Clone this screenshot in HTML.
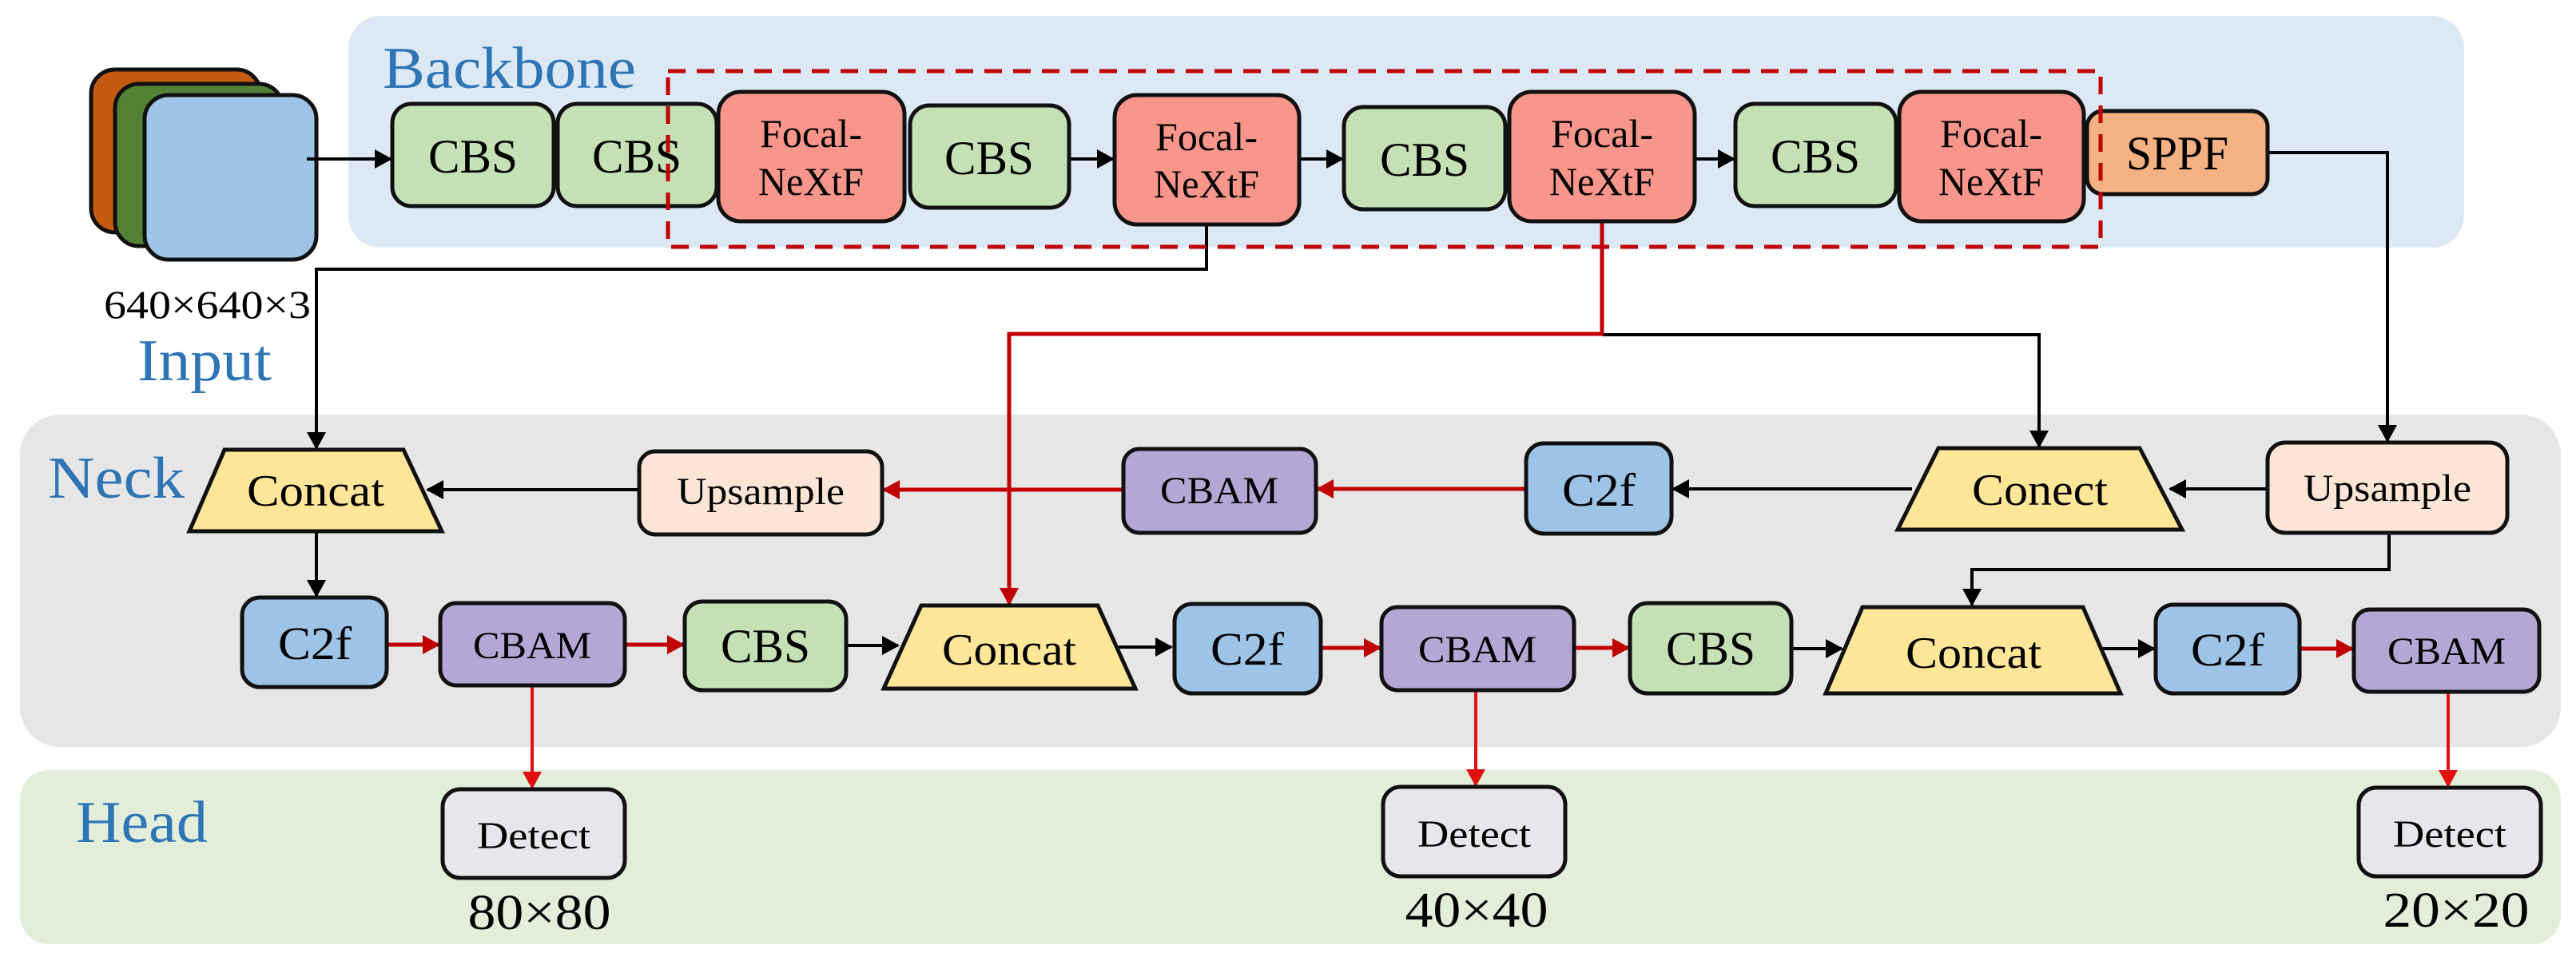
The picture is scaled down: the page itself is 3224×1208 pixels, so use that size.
<!DOCTYPE html>
<html><head><meta charset="utf-8"><style>
html,body{margin:0;padding:0;background:#fff}
svg{display:block}
svg text{font-family:"Liberation Serif","Times New Roman",serif;fill:#000}
svg text.lbl{fill:#2e75b6;font-size:74px}
</style></head><body>
<svg width="3224" height="1208" viewBox="0 0 3224 1208" xmlns="http://www.w3.org/2000/svg" font-family="Liberation Serif, serif">
<defs>
<marker id="ab" markerWidth="22" markerHeight="24" refX="20" refY="12" orient="auto" markerUnits="userSpaceOnUse" viewBox="0 0 22 24"><path d="M0,0 L22,12 L0,24 z" fill="#000"/></marker>
<marker id="ar" markerWidth="22" markerHeight="24" refX="20" refY="12" orient="auto" markerUnits="userSpaceOnUse" viewBox="0 0 22 24"><path d="M0,0 L22,12 L0,24 z" fill="#c00000"/></marker>
<marker id="ar2" markerWidth="22" markerHeight="24" refX="20" refY="12" orient="auto" markerUnits="userSpaceOnUse" viewBox="0 0 22 24"><path d="M0,0 L22,12 L0,24 z" fill="#e01010"/></marker>
</defs>
<style>
.b{stroke:#000;stroke-width:4;fill:none}
.r{stroke:#c00000;stroke-width:5;fill:none}
.r2{stroke:#e01010;stroke-width:4;fill:none}
.n{stroke:#111;stroke-width:5}
</style>
<!-- panels -->
<rect x="436" y="20" width="2648" height="290" rx="40" fill="#dde8f5"/>
<rect x="25" y="519" width="3180" height="416" rx="50" fill="#e7e6e6"/>
<rect x="25" y="964" width="3180" height="218" rx="36" fill="#e2eed9"/>

<text class="lbl" x="479" y="110" textLength="317" lengthAdjust="spacingAndGlyphs">Backbone</text>
<text class="lbl" x="60" y="623" textLength="171" lengthAdjust="spacingAndGlyphs">Neck</text>
<text class="lbl" x="172" y="476" textLength="168" lengthAdjust="spacingAndGlyphs">Input</text>
<text class="lbl" x="95" y="1054" textLength="165" lengthAdjust="spacingAndGlyphs">Head</text>
<text x="130" y="398" font-size="50" textLength="259" lengthAdjust="spacingAndGlyphs">640×640×3</text>

<!-- input stack -->
<rect x="114" y="87" width="212" height="204" rx="30" fill="#c55a11" class="n"/>
<rect x="144" y="105" width="210" height="203" rx="30" fill="#548235" class="n"/>
<rect x="181" y="119" width="215" height="206" rx="30" fill="#9dc3e6" class="n"/>

<!-- connectors -->
<line x1="384" y1="199" x2="489" y2="199" class="b" marker-end="url(#ab)"/>
<line x1="1338" y1="199" x2="1393" y2="199" class="b" marker-end="url(#ab)"/>
<line x1="1626" y1="199" x2="1680" y2="199" class="b" marker-end="url(#ab)"/>
<line x1="2121" y1="199" x2="2170" y2="199" class="b" marker-end="url(#ab)"/>
<polyline points="2838,191 2988,191 2988,552" class="b" marker-end="url(#ab)"/>
<polyline points="1510,281 1510,337 396,337 396,561" class="b" marker-end="url(#ab)"/>
<polyline points="2005,419 2552,419 2552,559" class="b" marker-end="url(#ab)"/>
<polyline points="2005,277 2005,418 1263,418 1263,756" class="r" marker-end="url(#ar)"/>
<line x1="798" y1="613" x2="535" y2="613" class="b" marker-end="url(#ab)"/>
<line x1="1406" y1="613" x2="1106" y2="613" class="r" marker-end="url(#ar)"/>
<line x1="1910" y1="612" x2="1649" y2="612" class="r" marker-end="url(#ar)"/>
<line x1="2393" y1="612" x2="2094" y2="612" class="b" marker-end="url(#ab)"/>
<line x1="2838" y1="612" x2="2716" y2="612" class="b" marker-end="url(#ab)"/>
<line x1="396" y1="665" x2="396" y2="746" class="b" marker-end="url(#ab)"/>
<polyline points="2990,667 2990,713 2468,713 2468,757" class="b" marker-end="url(#ab)"/>
<line x1="484" y1="807" x2="549" y2="807" class="r" marker-end="url(#ar)"/>
<line x1="782" y1="807" x2="855" y2="807" class="r" marker-end="url(#ar)"/>
<line x1="1059" y1="808" x2="1124" y2="808" class="b" marker-end="url(#ab)"/>
<line x1="1400" y1="810" x2="1466" y2="810" class="b" marker-end="url(#ab)"/>
<line x1="1653" y1="811" x2="1727" y2="811" class="r" marker-end="url(#ar)"/>
<line x1="1970" y1="811" x2="2038" y2="811" class="r" marker-end="url(#ar)"/>
<line x1="2242" y1="812" x2="2305" y2="812" class="b" marker-end="url(#ab)"/>
<line x1="2630" y1="812" x2="2696" y2="812" class="b" marker-end="url(#ab)"/>
<line x1="2878" y1="812" x2="2944" y2="812" class="r" marker-end="url(#ar)"/>
<line x1="666" y1="858" x2="666" y2="986" class="r2" marker-end="url(#ar2)"/>
<line x1="1847" y1="864" x2="1847" y2="983" class="r2" marker-end="url(#ar2)"/>
<line x1="3064" y1="866" x2="3064" y2="984" class="r2" marker-end="url(#ar2)"/>

<!-- backbone nodes -->
<rect x="491" y="130" width="202" height="128" rx="24" fill="#c5e0b4" class="n"/>
<text x="592" y="216" font-size="60" text-anchor="middle" textLength="112" lengthAdjust="spacingAndGlyphs">CBS</text>
<rect x="698" y="130" width="199" height="128" rx="24" fill="#c5e0b4" class="n"/>
<text x="797" y="216" font-size="60" text-anchor="middle" textLength="112" lengthAdjust="spacingAndGlyphs">CBS</text>
<rect x="899" y="115" width="233" height="162" rx="28" fill="#f8968b" class="n"/>
<text x="1015" y="184" font-size="50" text-anchor="middle" textLength="128" lengthAdjust="spacingAndGlyphs">Focal-</text>
<text x="1015" y="244" font-size="50" text-anchor="middle" textLength="132" lengthAdjust="spacingAndGlyphs">NeXtF</text>
<rect x="1139" y="132" width="199" height="128" rx="24" fill="#c5e0b4" class="n"/>
<text x="1238" y="218" font-size="60" text-anchor="middle" textLength="112" lengthAdjust="spacingAndGlyphs">CBS</text>
<rect x="1395" y="119" width="231" height="162" rx="28" fill="#f8968b" class="n"/>
<text x="1510" y="188" font-size="50" text-anchor="middle" textLength="128" lengthAdjust="spacingAndGlyphs">Focal-</text>
<text x="1510" y="247" font-size="50" text-anchor="middle" textLength="132" lengthAdjust="spacingAndGlyphs">NeXtF</text>
<rect x="1682" y="134" width="202" height="128" rx="24" fill="#c5e0b4" class="n"/>
<text x="1783" y="220" font-size="60" text-anchor="middle" textLength="112" lengthAdjust="spacingAndGlyphs">CBS</text>
<rect x="1889" y="115" width="232" height="162" rx="28" fill="#f8968b" class="n"/>
<text x="2005" y="184" font-size="50" text-anchor="middle" textLength="128" lengthAdjust="spacingAndGlyphs">Focal-</text>
<text x="2005" y="244" font-size="50" text-anchor="middle" textLength="132" lengthAdjust="spacingAndGlyphs">NeXtF</text>
<rect x="2172" y="130" width="201" height="128" rx="24" fill="#c5e0b4" class="n"/>
<text x="2272" y="216" font-size="60" text-anchor="middle" textLength="112" lengthAdjust="spacingAndGlyphs">CBS</text>
<rect x="2377" y="115" width="231" height="162" rx="28" fill="#f8968b" class="n"/>
<text x="2492" y="184" font-size="50" text-anchor="middle" textLength="128" lengthAdjust="spacingAndGlyphs">Focal-</text>
<text x="2492" y="244" font-size="50" text-anchor="middle" textLength="132" lengthAdjust="spacingAndGlyphs">NeXtF</text>
<rect x="2612" y="139" width="226" height="104" rx="20" fill="#f4b183" class="n"/>
<text x="2725" y="212" font-size="60" text-anchor="middle" textLength="128" lengthAdjust="spacingAndGlyphs">SPPF</text>

<!-- dashed box -->
<rect x="836" y="89" width="1793" height="220" fill="none" stroke="#c00000" stroke-width="5" stroke-dasharray="22,14"/>

<!-- neck row 1 -->
<polygon points="281,563 505,563 553,665 237,665" fill="#ffe699" class="n"/>
<text x="395" y="633" font-size="56" text-anchor="middle" textLength="172" lengthAdjust="spacingAndGlyphs">Concat</text>
<rect x="800" y="565" width="304" height="104" rx="20" fill="#fbe5d6" class="n"/>
<text x="952" y="631" font-size="48" text-anchor="middle" textLength="210" lengthAdjust="spacingAndGlyphs">Upsample</text>
<rect x="1406" y="562" width="241" height="105" rx="20" fill="#b4a7d6" class="n"/>
<text x="1526" y="630" font-size="48" text-anchor="middle" textLength="148" lengthAdjust="spacingAndGlyphs">CBAM</text>
<rect x="1910" y="555" width="182" height="113" rx="22" fill="#9dc3e6" class="n"/>
<text x="2001" y="633" font-size="58" text-anchor="middle" textLength="92" lengthAdjust="spacingAndGlyphs">C2f</text>
<polygon points="2426,561 2678,561 2731,663 2375,663" fill="#ffe699" class="n"/>
<text x="2553" y="632" font-size="56" text-anchor="middle" textLength="170" lengthAdjust="spacingAndGlyphs">Conect</text>
<rect x="2838" y="554" width="300" height="113" rx="22" fill="#fbe5d6" class="n"/>
<text x="2988" y="627" font-size="48" text-anchor="middle" textLength="210" lengthAdjust="spacingAndGlyphs">Upsample</text>

<!-- neck row 2 -->
<rect x="303" y="748" width="181" height="112" rx="22" fill="#9dc3e6" class="n"/>
<text x="394" y="825" font-size="58" text-anchor="middle" textLength="92" lengthAdjust="spacingAndGlyphs">C2f</text>
<rect x="551" y="755" width="231" height="103" rx="20" fill="#b4a7d6" class="n"/>
<text x="666" y="824" font-size="48" text-anchor="middle" textLength="148" lengthAdjust="spacingAndGlyphs">CBAM</text>
<rect x="857" y="753" width="202" height="111" rx="22" fill="#c5e0b4" class="n"/>
<text x="958" y="829" font-size="60" text-anchor="middle" textLength="112" lengthAdjust="spacingAndGlyphs">CBS</text>
<polygon points="1153,758 1374,758 1421,862 1106,862" fill="#ffe699" class="n"/>
<text x="1263" y="832" font-size="56" text-anchor="middle" textLength="168" lengthAdjust="spacingAndGlyphs">Concat</text>
<rect x="1470" y="756" width="183" height="112" rx="22" fill="#9dc3e6" class="n"/>
<text x="1561" y="832" font-size="58" text-anchor="middle" textLength="92" lengthAdjust="spacingAndGlyphs">C2f</text>
<rect x="1729" y="760" width="241" height="104" rx="20" fill="#b4a7d6" class="n"/>
<text x="1849" y="829" font-size="48" text-anchor="middle" textLength="148" lengthAdjust="spacingAndGlyphs">CBAM</text>
<rect x="2040" y="755" width="202" height="113" rx="22" fill="#c5e0b4" class="n"/>
<text x="2141" y="832" font-size="60" text-anchor="middle" textLength="112" lengthAdjust="spacingAndGlyphs">CBS</text>
<polygon points="2331,760 2607,760 2654,868 2285,868" fill="#ffe699" class="n"/>
<text x="2470" y="836" font-size="56" text-anchor="middle" textLength="170" lengthAdjust="spacingAndGlyphs">Concat</text>
<rect x="2698" y="757" width="180" height="111" rx="22" fill="#9dc3e6" class="n"/>
<text x="2788" y="833" font-size="58" text-anchor="middle" textLength="92" lengthAdjust="spacingAndGlyphs">C2f</text>
<rect x="2946" y="763" width="232" height="103" rx="20" fill="#b4a7d6" class="n"/>
<text x="3062" y="831" font-size="48" text-anchor="middle" textLength="148" lengthAdjust="spacingAndGlyphs">CBAM</text>

<!-- head -->
<rect x="554" y="988" width="228" height="111" rx="22" fill="#e7e6ea" class="n"/>
<text x="668" y="1062" font-size="48" text-anchor="middle" textLength="142" lengthAdjust="spacingAndGlyphs">Detect</text>
<rect x="1731" y="985" width="228" height="112" rx="22" fill="#e7e6ea" class="n"/>
<text x="1845" y="1060" font-size="48" text-anchor="middle" textLength="142" lengthAdjust="spacingAndGlyphs">Detect</text>
<rect x="2952" y="986" width="228" height="111" rx="22" fill="#e7e6ea" class="n"/>
<text x="3066" y="1060" font-size="48" text-anchor="middle" textLength="142" lengthAdjust="spacingAndGlyphs">Detect</text>
<text x="675" y="1163" font-size="62" text-anchor="middle" textLength="179" lengthAdjust="spacingAndGlyphs">80×80</text>
<text x="1848" y="1160" font-size="62" text-anchor="middle" textLength="179" lengthAdjust="spacingAndGlyphs">40×40</text>
<text x="3074" y="1160" font-size="62" text-anchor="middle" textLength="183" lengthAdjust="spacingAndGlyphs">20×20</text>
</svg>
</body></html>
